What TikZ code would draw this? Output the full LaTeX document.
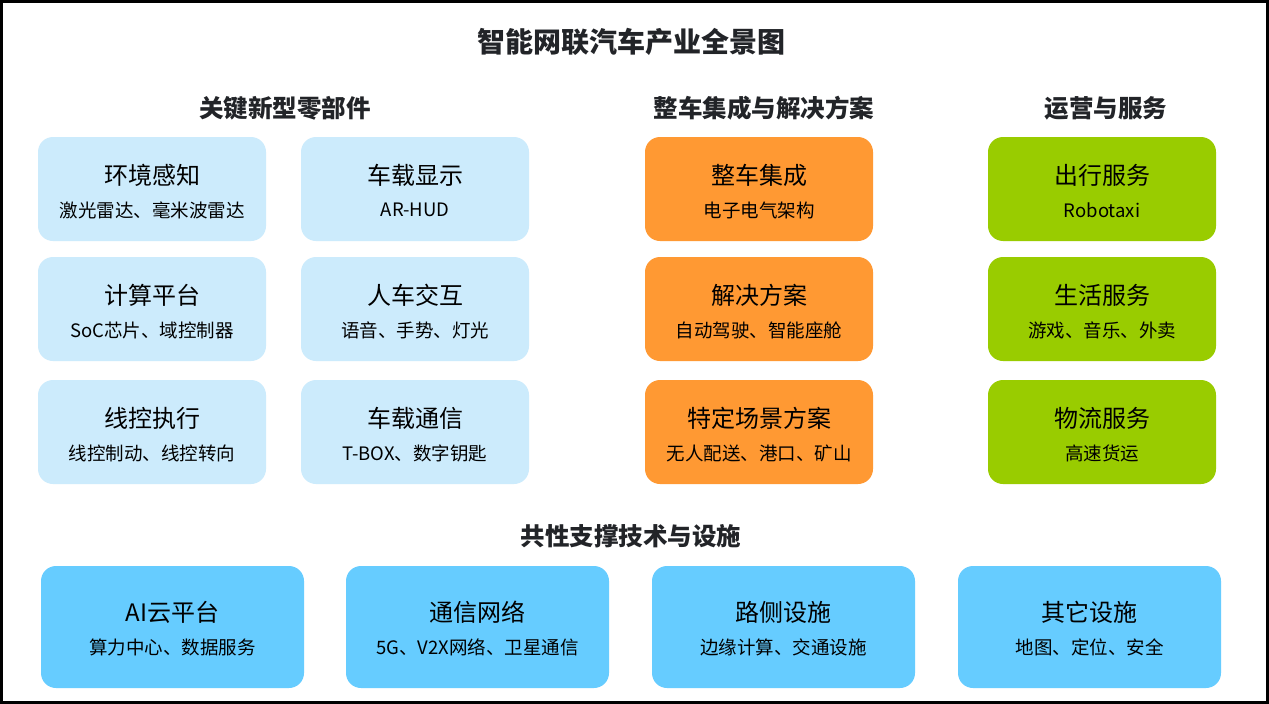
\documentclass[tikz,border=0pt]{standalone}
\usepackage{fontspec}
\setmainfont{Noto Sans CJK SC}
\definecolor{lightblue}{HTML}{CCEBFC}
\definecolor{orangebox}{HTML}{FF9933}
\definecolor{greenbox}{HTML}{99CC00}
\definecolor{skyblue}{HTML}{66CCFF}
\definecolor{headtext}{HTML}{222428}
\tikzset{
  card/.style={rounded corners=15pt, draw=none, inner sep=0pt},
  topcard/.style={card, minimum width=228pt, minimum height=104pt},
  botcard/.style={card, minimum width=263pt, minimum height=122pt},
  cardtitle/.style={font=\fontsize{24}{28}\selectfont, text=black, inner sep=0pt},
  cardsub/.style={font=\fontsize{18.5}{22}\selectfont, text=black, inner sep=0pt},
  section/.style={font=\fontsize{24.5}{28}\selectfont\bfseries, text=headtext, inner sep=0pt},
  maintitle/.style={font=\fontsize{28}{32}\selectfont\bfseries, text=headtext, inner sep=0pt}
}
\newcommand\topcardat[6]{%
  \node[topcard, fill=#4] (#1) at (#2,#3) {};
  \node[cardtitle] (#1t) at ([yshift=14pt]#1.center) {#5};
  \node[cardsub] (#1s) at ([yshift=-21pt]#1.center) {#6};
}
\newcommand\botcardat[5]{%
  \node[botcard, fill=skyblue] (#1) at (#2,#3) {};
  \node[cardtitle] (#1t) at ([yshift=15pt]#1.center) {#4};
  \node[cardsub] (#1s) at ([yshift=-20pt]#1.center) {#5};
}
\begin{document}
\begin{tikzpicture}[x=1pt,y=-1pt]
\fill[white] (0,0) rectangle (1269,704);
\useasboundingbox (0,0) rectangle (1269,704);
\draw[line width=3pt, black] (1.5,1.5) rectangle (1267.5,702.5);

\node[maintitle] (title) at (631,42) {智能网联汽车产业全景图};
\node[section] (s1) at (285,108) {关键新型零部件};
\node[section] (s2) at (764,108) {整车集成与解决方案};
\node[section] (s3) at (1106,108) {运营与服务};
\node[section] (s4) at (631,536) {共性支撑技术与设施};

\topcardat{a1}{152}{189}{lightblue}{环境感知}{激光雷达、毫米波雷达}
\topcardat{a2}{152}{309}{lightblue}{计算平台}{SoC芯片、域控制器}
\topcardat{a3}{152}{432}{lightblue}{线控执行}{线控制动、线控转向}
\topcardat{b1}{415}{189}{lightblue}{车载显示}{AR-HUD}
\topcardat{b2}{415}{309}{lightblue}{人车交互}{语音、手势、灯光}
\topcardat{b3}{415}{432}{lightblue}{车载通信}{T-BOX、数字钥匙}
\topcardat{c1}{759}{189}{orangebox}{整车集成}{电子电气架构}
\topcardat{c2}{759}{309}{orangebox}{解决方案}{自动驾驶、智能座舱}
\topcardat{c3}{759}{432}{orangebox}{特定场景方案}{无人配送、港口、矿山}
\topcardat{d1}{1102}{189}{greenbox}{出行服务}{Robotaxi}
\topcardat{d2}{1102}{309}{greenbox}{生活服务}{游戏、音乐、外卖}
\topcardat{d3}{1102}{432}{greenbox}{物流服务}{高速货运}

\botcardat{e1}{172.5}{627}{AI云平台}{算力中心、数据服务}
\botcardat{e2}{477.5}{627}{通信网络}{5G、V2X网络、卫星通信}
\botcardat{e3}{783.5}{627}{路侧设施}{边缘计算、交通设施}
\botcardat{e4}{1089.5}{627}{其它设施}{地图、定位、安全}
\end{tikzpicture}
\end{document}
